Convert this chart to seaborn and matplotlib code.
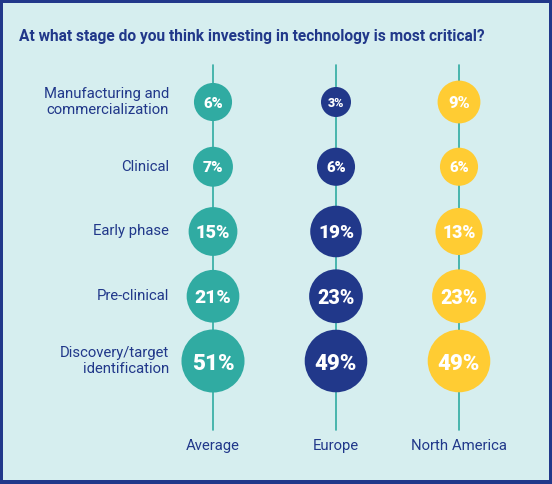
import numpy as np
import pandas as pd
import matplotlib
matplotlib.use("Agg")
import matplotlib.pyplot as plt
import seaborn as sns
from matplotlib.patches import Rectangle

# ---- data ----
stages = ["Manufacturing and\ncommercialization", "Clinical", "Early phase",
          "Pre-clinical", "Discovery/target\nidentification"]
regions = ["Average", "Europe", "North America"]
average = [6, 7, 15, 21, 51]
europe = [3, 6, 19, 23, 49]
north_america = [9, 6, 13, 23, 49]
title = "At what stage do you think investing in technology is most critical?"

# ---- style ----
BG = "#D6EEEF"
NAVY = "#21388A"
TEAL = "#30ABA2"
YELLOW = "#FFCC33"
W, H = 552, 484
DPI = 100

sns.set_theme(style="white")
plt.rcParams["font.family"] = ["Roboto", "DejaVu Sans"]

rows = []
for reg, vals in zip(regions, [average, europe, north_america]):
    for st, v in zip(stages, vals):
        rows.append({"region": reg, "stage": st, "pct": v})
df = pd.DataFrame(rows)
df["xi"] = df["region"].map({r: i for i, r in enumerate(regions)})
df["yi"] = df["stage"].map({s: i for i, s in enumerate(stages)})

def diam_px(v):
    return 17.2 + 11.66 * np.log(v)

def area_pt2(v):
    d_pt = diam_px(v) * 72 / DPI
    return d_pt ** 2

fig = plt.figure(figsize=(W / DPI, H / DPI), dpi=DPI)
fig.patch.set_facecolor(BG)
ax = fig.add_axes([0, 0, 1, 1])
ax.set_facecolor(BG)

# pixel mapping: x index -> 213 + 123*i ; y index -> 102 + 64.75*j
XPX0, XSTEP = 213, 123
YPX0, YSTEP = 102, 64.75
ax.set_xlim(-XPX0 / XSTEP, (W - XPX0) / XSTEP)
ax.set_ylim((H - YPX0) / YSTEP, -YPX0 / YSTEP)
ax.axis("off")

# vertical lines
ytop = (65 - YPX0) / YSTEP
ybot = (430 - YPX0) / YSTEP
for i in range(len(regions)):
    ax.plot([i, i], [ytop, ybot], color=TEAL, lw=1.2, zorder=1)

palette = {"Average": TEAL, "Europe": NAVY, "North America": YELLOW}
sizes = {v: area_pt2(v) for v in sorted(df["pct"].unique())}
sns.scatterplot(data=df, x="xi", y="yi", hue="region", palette=palette,
                size="pct", sizes=sizes, legend=False, linewidth=0,
                ax=ax, zorder=3)

# percent labels
for _, r in df.iterrows():
    fs = (0.30 * diam_px(r["pct"]) + 3.5) * 72 / DPI
    ax.text(r["xi"], r["yi"], f"{r['pct']}%", ha="center", va="center_baseline",
            color="white", fontsize=fs, fontweight="heavy", zorder=4)

# stage labels
for j, st in enumerate(stages):
    ax.text(-(XPX0 - 169) / XSTEP, j, st, ha="right", va="center",
            color=NAVY, fontsize=10.7, linespacing=1.15, zorder=4)
# region labels
for i, reg in enumerate(regions):
    ax.text(i, (446 - YPX0) / YSTEP, reg, ha="center", va="center",
            color=NAVY, fontsize=10.7, zorder=4)

fig.text(19 / W, 1 - 37 / H, title, ha="left", va="center", color=NAVY,
         fontsize=11.2, fontweight="bold")

# border
fig.patches.append(Rectangle((0, 0), 1, 4 / H, transform=fig.transFigure,
                             facecolor=NAVY, edgecolor="none", zorder=10))
fig.patches.append(Rectangle((0, 1 - 3 / H), 1, 3 / H, transform=fig.transFigure,
                             facecolor=NAVY, edgecolor="none", zorder=10))
fig.patches.append(Rectangle((0, 0), 3 / W, 1, transform=fig.transFigure,
                             facecolor=NAVY, edgecolor="none", zorder=10))
fig.patches.append(Rectangle((1 - 3 / W, 0), 3 / W, 1, transform=fig.transFigure,
                             facecolor=NAVY, edgecolor="none", zorder=10))

fig.savefig("out.png", dpi=DPI, facecolor=BG)
